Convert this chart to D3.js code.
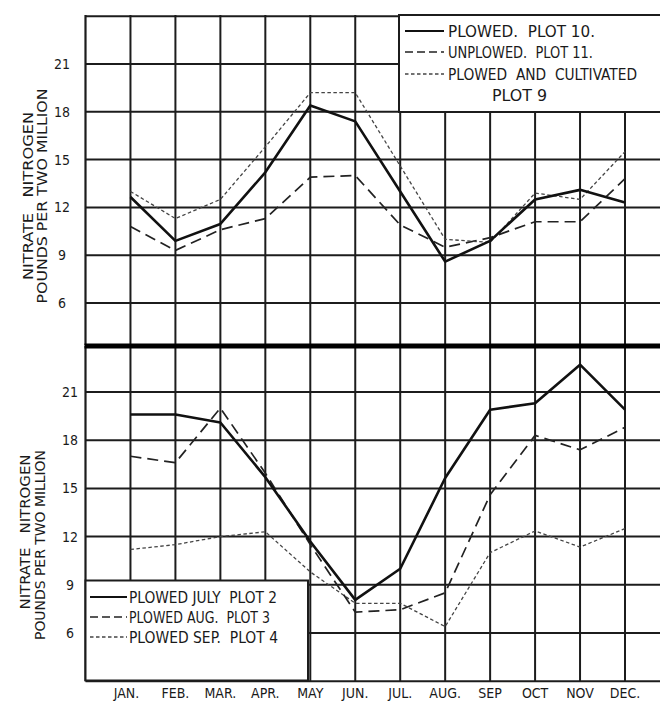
<!DOCTYPE html>
<html>
<head>
<meta charset="utf-8">
<script src="https://cdn.jsdelivr.net/npm/d3@7"></script>
<style>
  html, body { margin: 0; padding: 0; background: #fff; }
  svg { display: block; }
  text { font-family: "DejaVu Sans Condensed", "Liberation Sans Narrow", "Liberation Sans", sans-serif; fill: #1a1a1a; white-space: pre; }
</style>
</head>
<body>
<svg id="chart" width="660" height="702"></svg>
<script>
// ---------- DATA ----------
const months = ["JAN.", "FEB.", "MAR.", "APR.", "MAY", "JUN.", "JUL.", "AUG.", "SEP", "OCT", "NOV", "DEC."];
const yTicks = [6, 9, 12, 15, 18, 21];

// Top panel
const plowedPlot10     = [12.65, 9.9, 10.96, 14.2, 18.4, 17.4, 13.0, 8.6, 9.9, 12.5, 13.1, 12.3];
const unplowedPlot11   = [10.8, 9.3, 10.6, 11.3, 13.9, 14.0, 10.9, 9.5, 10.1, 11.1, 11.1, 13.8];
const cultivatedPlot9  = [13.0, 11.3, 12.5, 15.8, 19.2, 19.2, 14.6, 10.0, 9.8, 12.9, 12.5, 15.5];

// Bottom panel
const plowedJulyPlot2  = [19.6, 19.6, 19.1, 15.7, 11.7, 8.06, 10.0, 15.65, 19.9, 20.3, 22.7, 19.9];
const plowedAugPlot3   = [17.0, 16.6, 20.0, 15.95, 11.5, 7.3, 7.45, 8.5, 14.6, 18.3, 17.4, 18.8];
const plowedSepPlot4   = [11.2, 11.5, 12.0, 12.3, 9.8, 7.85, 7.85, 6.4, 11.0, 12.35, 11.35, 12.5];

const topLegend = ["PLOWED.  PLOT 10.", "UNPLOWED.  PLOT 11.", "PLOWED  AND  CULTIVATED", "PLOT 9"];
const bottomLegend = ["PLOWED JULY  PLOT 2", "PLOWED AUG.  PLOT 3", "PLOWED SEP.  PLOT 4"];
const yTitle = ["NITRATE   NITROGEN", "POUNDS PER TWO MILLION"];

// ---------- LAYOUT ----------
const svg = d3.select("#chart");
const W = 660;
const ink = "#1c1c1c";

// x: month index -> pixel; index -1 is the left border
const x = d3.scaleLinear().domain([-1, 11]).range([85.5, 625]);

// two panels, each covers 3..24
const yTop = d3.scaleLinear().domain([6, 21]).range([303, 64]);
const yBot = d3.scaleLinear().domain([6, 21]).range([633, 392]);

const styles = {
  solid: { w: 2.6, dash: null, c: "#111" },
  long:  { w: 1.7, dash: "11,6", c: "#222" },
  short: { w: 1.3, dash: "3.5,2.5", c: "#444" }
};

function panel(y, top, bottom, legendBox, tickX, series, title) {
  const g = svg.append("g");
  const gridVals = d3.range(3, 25, 3);
  // horizontal grid
  g.selectAll(".h").data(gridVals.filter(v => y(v) >= top - 1 && y(v) <= bottom + 1))
    .join("line")
    .attr("x1", x(-1)).attr("x2", W)
    .attr("y1", d => y(d)).attr("y2", d => y(d))
    .attr("stroke", ink).attr("stroke-width", 2);
  // vertical grid
  g.selectAll(".v").data(d3.range(-1, 12))
    .join("line")
    .attr("x1", d => x(d)).attr("x2", d => x(d))
    .attr("y1", top).attr("y2", bottom)
    .attr("stroke", ink).attr("stroke-width", d => d === -1 ? 2.2 : 2);

  // series lines
  const line = d3.line().x((d, i) => x(i)).y(d => y(d));
  series.forEach(s => {
    const st = styles[s.style];
    g.append("path").datum(s.values)
      .attr("d", line)
      .attr("fill", "none")
      .attr("stroke", st.c)
      .attr("stroke-width", st.w)
      .attr("stroke-linejoin", "round")
      .attr("stroke-dasharray", st.dash);
  });

  // legend box (covers grid)
  const lb = legendBox;
  g.append("rect").attr("x", lb.x).attr("y", lb.y).attr("width", lb.w).attr("height", lb.h)
    .attr("fill", "#fff").attr("stroke", ink).attr("stroke-width", 2);
  lb.items.forEach((it, i) => {
    if (it.style) {
      const st = styles[it.style];
      g.append("line").attr("x1", lb.sx1).attr("x2", lb.sx2)
        .attr("y1", it.base - 6).attr("y2", it.base - 6)
        .attr("stroke", st.c).attr("stroke-width", it.style === "solid" ? 1.8 : st.w)
        .attr("stroke-dasharray", it.style === "long" ? "8,4" : st.dash);
    }
    g.append("text").attr("x", it.tx).attr("y", it.base)
      .attr("font-size", 15)
      .attr("textLength", it.len).attr("lengthAdjust", "spacingAndGlyphs")
      .text(it.label);
  });

  // tick labels
  g.selectAll(".tl").data(yTicks).join("text")
    .attr("x", tickX).attr("y", d => y(d) + 5)
    .attr("text-anchor", "middle").attr("font-size", 14)
    .text(d => d);

  // y title
  title.forEach(t => {
    g.append("text")
      .attr("transform", `translate(${t.bx},${t.cy}) rotate(-90)`)
      .attr("text-anchor", "middle").attr("font-size", 14)
      .attr("textLength", t.len).attr("lengthAdjust", "spacingAndGlyphs")
      .text(t.label);
  });
}

panel(yTop, 15, 345,
  { x: 399, y: 15, w: 270, h: 97, sx1: 405, sx2: 444,
    items: [
      { style: "solid", label: topLegend[0], tx: 448, base: 37, len: 147 },
      { style: "long",  label: topLegend[1], tx: 448, base: 58, len: 145 },
      { style: "short", label: topLegend[2], tx: 448, base: 80, len: 189 },
      { style: null,    label: topLegend[3], tx: 492, base: 101, len: 55 }
    ] },
  62,
  [ { values: unplowedPlot11, style: "long" },
    { values: cultivatedPlot9, style: "short" },
    { values: plowedPlot10, style: "solid" } ],
  [ { label: yTitle[0], bx: 33, cy: 196, len: 168 },
    { label: yTitle[1], bx: 47, cy: 196, len: 215 } ]
);

panel(yBot, 346, 681,
  { x: 85.5, y: 580.5, w: 222.5, h: 100, sx1: 90, sx2: 127,
    items: [
      { style: "solid", label: bottomLegend[0], tx: 129, base: 603, len: 148 },
      { style: "long",  label: bottomLegend[1], tx: 129, base: 623, len: 141 },
      { style: "short", label: bottomLegend[2], tx: 129, base: 643, len: 149 }
    ] },
  70,
  [ { values: plowedSepPlot4, style: "short" },
    { values: plowedAugPlot3, style: "long" },
    { values: plowedJulyPlot2, style: "solid" } ],
  [ { label: yTitle[0], bx: 30, cy: 532, len: 155 },
    { label: yTitle[1], bx: 45, cy: 545, len: 190 } ]
);

// thick separator between panels
svg.append("line").attr("x1", x(-1) - 1).attr("x2", W)
  .attr("y1", 346).attr("y2", 346)
  .attr("stroke", "#000").attr("stroke-width", 5);

// x axis month labels
svg.selectAll(".ml").data(months).join("text")
  .attr("x", (d, i) => x(i) - (i === 0 ? 4 : 0))
  .attr("y", 698)
  .attr("text-anchor", "middle").attr("font-size", 14)
  .text(d => d);
</script>
</body>
</html>
